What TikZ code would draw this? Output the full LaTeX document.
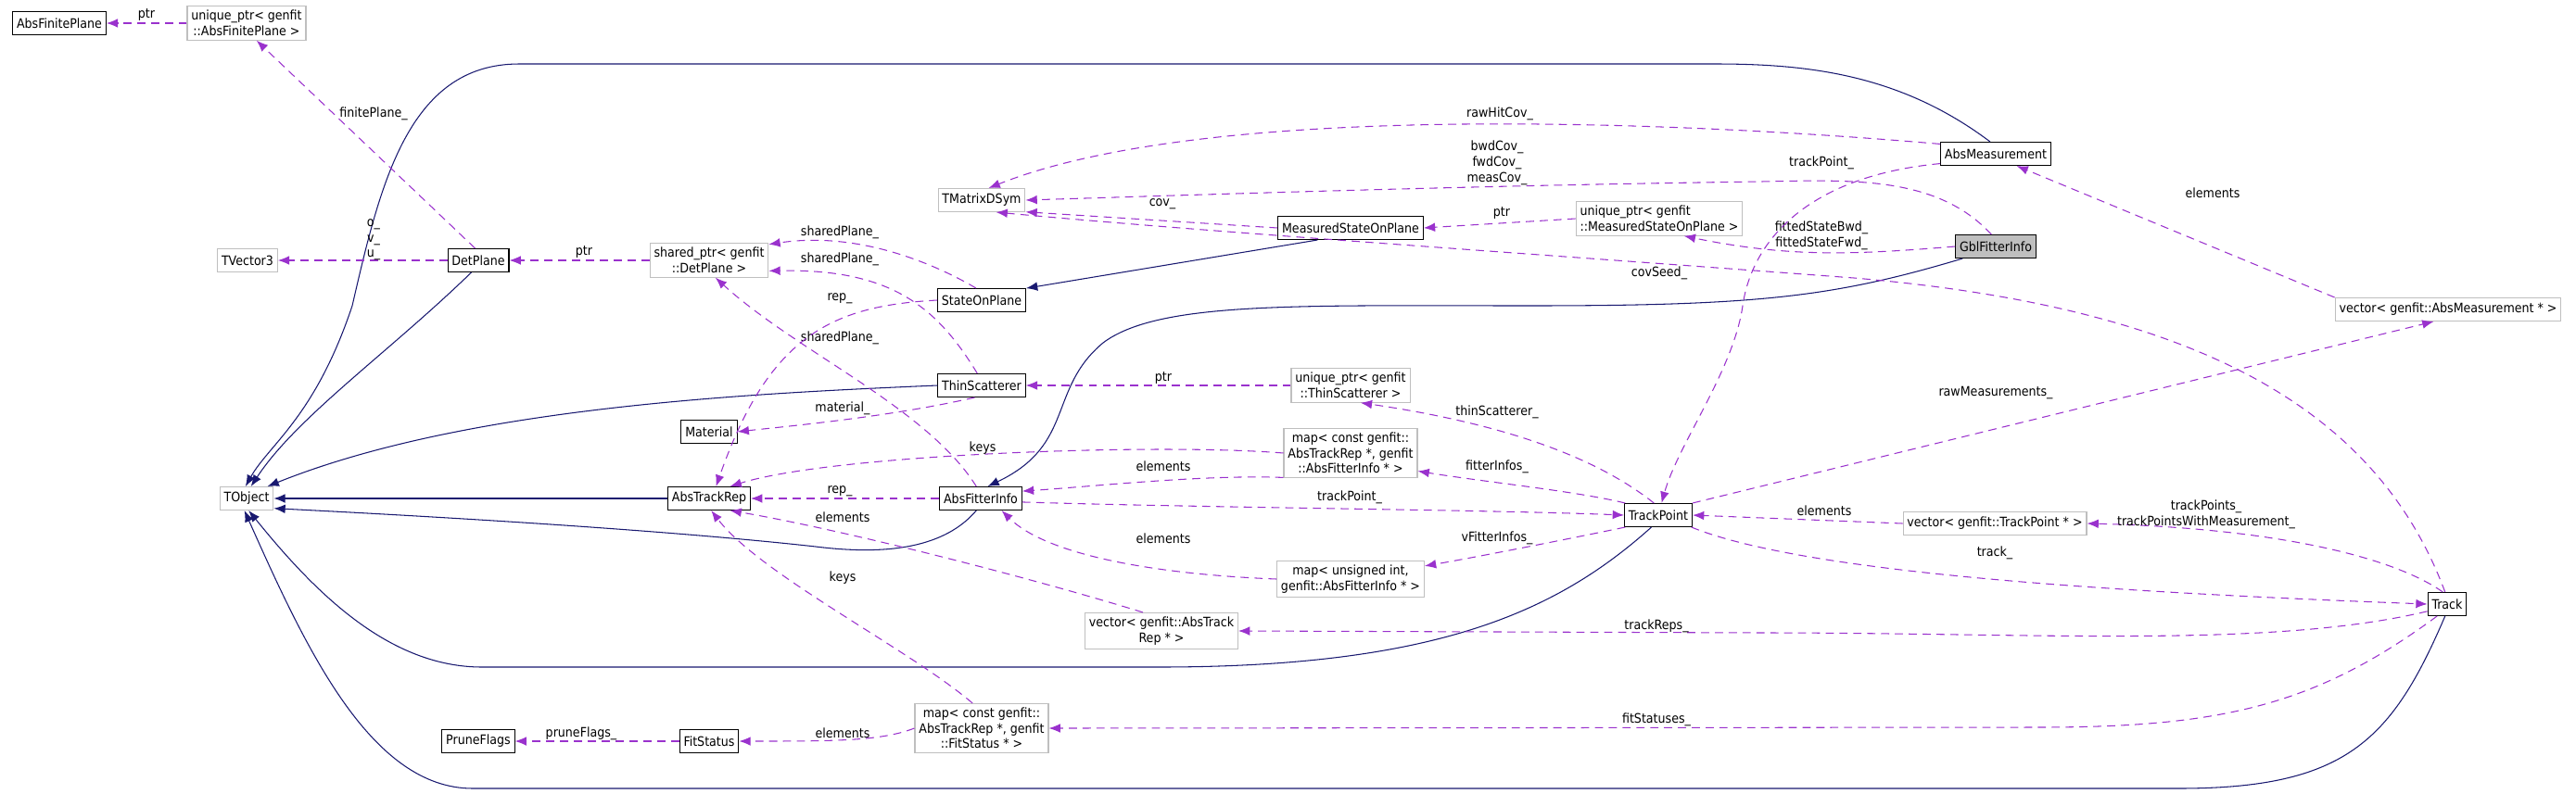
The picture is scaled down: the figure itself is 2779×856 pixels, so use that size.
\documentclass[tikz,border=0pt]{standalone}
\usepackage{fontspec}
\setmainfont{DejaVu Sans Condensed}
\usepackage{tikz}
\usetikzlibrary{arrows.meta, calc, positioning}
\definecolor{inhcol}{HTML}{191970}
\definecolor{usecol}{HTML}{9A32CD}
\definecolor{tplcol}{HTML}{BFBFBF}
\tikzset{
  cls/.style={draw=black, fill=white, semithick, font=\fontsize{8}{9.5}\selectfont, inner sep=2.5pt, minimum height=0.5cm, align=center},
  tpl/.style={cls, draw=tplcol},
  lbl/.style={font=\fontsize{8}{9.5}\selectfont, inner sep=0pt, align=center},
  inh/.style={draw=inhcol, semithick, -{Latex[length=7pt, width=5.5pt]}},
  use/.style={draw=usecol, semithick, dash pattern=on 5pt off 3.5pt, -{Latex[length=7pt, width=5.5pt]}}
}
\begin{document}
\begin{tikzpicture}[x=0.02cm, y=-0.02cm]
	\useasboundingbox (0,0) rectangle (2779,856);
	% classes
	\node[cls] (afp) at (64,25) {AbsFinitePlane};
	\node[tpl] (uafp) at (266,25) {unique\_ptr< genfit\\::AbsFinitePlane >};
	\node[tpl] (tvec) at (267,281) {TVector3};
	\node[cls] (det) at (516,281) {DetPlane};
	\node[tpl] (sdet) at (765,281) {shared\_ptr< genfit\\::DetPlane >};
	\node[tpl] (tmat) at (1059,216) {TMatrixDSym};
	\node[cls] (msop) at (1457,246) {MeasuredStateOnPlane};
	\node[tpl, align=left] (umsop) at (1790,236) {unique\_ptr< genfit\\::MeasuredStateOnPlane >};
	\node[cls] (sop) at (1059,324) {StateOnPlane};
	\node[cls] (thin) at (1059,416) {ThinScatterer};
	\node[tpl] (uthin) at (1457,416) {unique\_ptr< genfit\\::ThinScatterer >};
	\node[cls] (mat) at (765,466) {Material};
	\node[tpl] (mafi) at (1457,489) {map< const genfit::\\AbsTrackRep *, genfit\\::AbsFitterInfo * >};
	\node[tpl] (tobj) at (266,538) {TObject};
	\node[cls] (atr) at (765,538) {AbsTrackRep};
	\node[cls] (afi) at (1058,538) {AbsFitterInfo};
	\node[cls] (tp) at (1789,556) {TrackPoint};
	\node[tpl] (vtp) at (2152,565) {vector< genfit::TrackPoint * >};
	\node[tpl] (mui) at (1457,625) {map< unsigned int,\\genfit::AbsFitterInfo * >};
	\node[tpl] (vatr) at (1253,681) {vector< genfit::AbsTrack\\Rep * >};
	\node[cls] (track) at (2640,652) {Track};
	\node[tpl] (mfs) at (1059,786) {map< const genfit::\\AbsTrackRep *, genfit\\::FitStatus * >};
	\node[cls] (fs) at (765,800) {FitStatus};
	\node[cls] (prune) at (516,800) {PruneFlags};
	\node[cls] (ameas) at (2153,166) {AbsMeasurement};
	\node[cls, fill=tplcol] (gbl) at (2153,266) {GblFitterInfo};
	\node[tpl] (vam) at (2641,334) {vector< genfit::AbsMeasurement * >};

	% inheritance
	\draw[inh] (ameas.115) .. controls (2050,80) and (1950,69) .. (1850,69) -- (560,69)
		.. controls (440,69) and (410,200) .. (380,330) .. controls (340,450) and (290,480) .. (tobj.95);
	\draw[inh] (det.240) .. controls (420,380) and (320,450) .. (tobj.70);
	\draw[inh] (msop.200) -- (sop.15);
	\draw[inh] (thin.west) .. controls (800,425) and (500,440) .. (tobj.30);
	\draw[inh] (atr.west) -- (tobj.east);
	\draw[inh] (afi.250) .. controls (1020,590) and (960,600) .. (880,590) .. controls (700,570) and (420,555) .. (tobj.-20);
	\draw[inh] (gbl.200) .. controls (1980,320) and (1900,330) .. (1650,330) .. controls (1400,330) and (1250,325) .. (1190,370) .. controls (1130,420) and (1160,480) .. (afi.60);
	\draw[inh] (tp.240) .. controls (1680,660) and (1550,720) .. (1250,720) -- (520,720) .. controls (420,720) and (340,640) .. (tobj.-80);
	\draw[inh] (track.260) .. controls (2580,800) and (2530,851) .. (2350,851) -- (510,851) .. controls (400,851) and (330,700) .. (tobj.-100);

	% members
	\draw[use] (uafp.west) -- (afp.east);
	\node[lbl] (l1) at (158,16) {ptr};
	\draw[use] (det.105) -- (uafp.-60);
	\node[lbl] (l2) at (403,123) {finitePlane\_};
	\draw[use] (det.west) -- (tvec.east);
	\node[lbl] (l3) at (403,259) {o\_\\v\_\\u\_};
	\draw[use] (sdet.west) -- (det.east);
	\node[lbl] (l4) at (630,272) {ptr};
	\draw[use] (sop.115) .. controls (1000,280) and (920,250) .. (sdet.15);
	\node[lbl] (l5) at (906,251) {sharedPlane\_};
	\draw[use] (thin.110) .. controls (1010,330) and (960,290) .. (sdet.-10);
	\node[lbl] (l6) at (906,280) {sharedPlane\_};
	\draw[use] (afi.110) .. controls (1000,440) and (860,380) .. (sdet.-70);
	\node[lbl] (l7) at (906,365) {sharedPlane\_};
	\draw[use] (sop.west) .. controls (900,330) and (830,360) .. (atr.60);
	\node[lbl] (l8) at (906,322) {rep\_};
	\draw[use] (thin.240) .. controls (960,450) and (850,460) .. (mat.east);
	\node[lbl] (l9) at (909,441) {material\_};
	\draw[use] (mafi.west) .. controls (1250,478) and (900,490) .. (atr.30);
	\node[lbl] (l10) at (1060,484) {keys};
	\draw[use] (mafi.200) .. controls (1300,512) and (1180,525) .. (afi.10);
	\node[lbl] (l11) at (1255,503) {elements};
	\draw[use] (afi.west) -- (atr.east);
	\node[lbl] (l12) at (906,530) {rep\_};
	\draw[use] (vatr.135) .. controls (1100,620) and (900,570) .. (atr.-30);
	\node[lbl] (l13) at (909,558) {elements};
	\draw[use] (mfs.110) .. controls (980,700) and (820,620) .. (atr.-80);
	\node[lbl] (l14) at (909,624) {keys};
	\draw[use] (mui.west) .. controls (1250,620) and (1130,600) .. (afi.-30);
	\node[lbl] (l15) at (1255,581) {elements};
	\draw[use] (afi.-5) .. controls (1300,548) and (1600,550) .. (tp.west);
	\node[lbl] (l16) at (1456,537) {trackPoint\_};
	\draw[use] (mfs.west) .. controls (950,800) and (900,800) .. (fs.east);
	\node[lbl] (l17) at (909,791) {elements};
	\draw[use] (fs.west) -- (prune.east);
	\node[lbl] (l18) at (627,792) {pruneFlags\_};
	\draw[use] (msop.west) -- (tmat.-15);
	\node[lbl] (l19) at (1254,220) {cov\_};
	\draw[use] (ameas.170) .. controls (1800,130) and (1300,110) .. (tmat.60);
	\node[lbl] (l20) at (1618,123) {rawHitCov\_};
	\draw[use] (gbl.110) .. controls (2090,190) and (2000,194) .. (1900,196) .. controls (1600,200) and (1300,210) .. (tmat.east);
	\node[lbl] (l21) at (1615,176) {bwdCov\_\\fwdCov\_\\measCov\_};
	\draw[use] (track.100) .. controls (2560,430) and (2350,330) .. (2000,300) .. controls (1600,270) and (1300,250) .. (tmat.-40);
	\node[lbl] (l22) at (1790,295) {covSeed\_};
	\draw[use] (umsop.west) -- (msop.east);
	\node[lbl] (l23) at (1620,230) {ptr};
	\draw[use] (gbl.west) .. controls (2000,275) and (1930,278) .. (umsop.-35);
	\node[lbl] (l24) at (1965,254) {fittedStateBwd\_\\fittedStateFwd\_};
	\draw[use] (ameas.190) .. controls (1950,190) and (1890,260) .. (1880,330) .. controls (1870,400) and (1810,480) .. (tp.75);
	\node[lbl] (l25) at (1965,176) {trackPoint\_};
	\draw[use] (uthin.west) -- (thin.east);
	\node[lbl] (l26) at (1255,408) {ptr};
	\draw[use] (tp.110) .. controls (1730,500) and (1640,460) .. (uthin.-60);
	\node[lbl] (l27) at (1615,445) {thinScatterer\_};
	\draw[use] (tp.160) .. controls (1700,530) and (1600,520) .. (mafi.-15);
	\node[lbl] (l28) at (1615,504) {fitterInfos\_};
	\draw[use] (tp.200) .. controls (1700,580) and (1600,600) .. (mui.10);
	\node[lbl] (l29) at (1615,581) {vFitterInfos\_};
	\draw[use] (vam.north west) -- (ameas.-30);
	\node[lbl] (l30) at (2387,208) {elements};
	\draw[use] (tp.north east) -- (vam.220);
	\node[lbl] (l31) at (2153,424) {rawMeasurements\_};
	\draw[use] (vtp.west) -- (tp.east);
	\node[lbl] (l32) at (1968,551) {elements};
	\draw[use] (track.110) .. controls (2580,600) and (2450,570) .. (vtp.east);
	\node[lbl] (l33) at (2380,555) {trackPoints\_\\trackPointsWithMeasurement\_};
	\draw[use] (tp.-20) .. controls (1950,620) and (2300,640) .. (track.west);
	\node[lbl] (l34) at (2152,597) {track\_};
	\draw[use] (track.200) .. controls (2450,700) and (2200,683) .. (1900,683) -- (vatr.east);
	\node[lbl] (l35) at (1787,676) {trackReps\_};
	\draw[use] (track.230) .. controls (2500,760) and (2400,785) .. (2200,785) -- (mfs.east);
	\node[lbl] (l36) at (1787,777) {fitStatuses\_};
\end{tikzpicture}
\end{document}
